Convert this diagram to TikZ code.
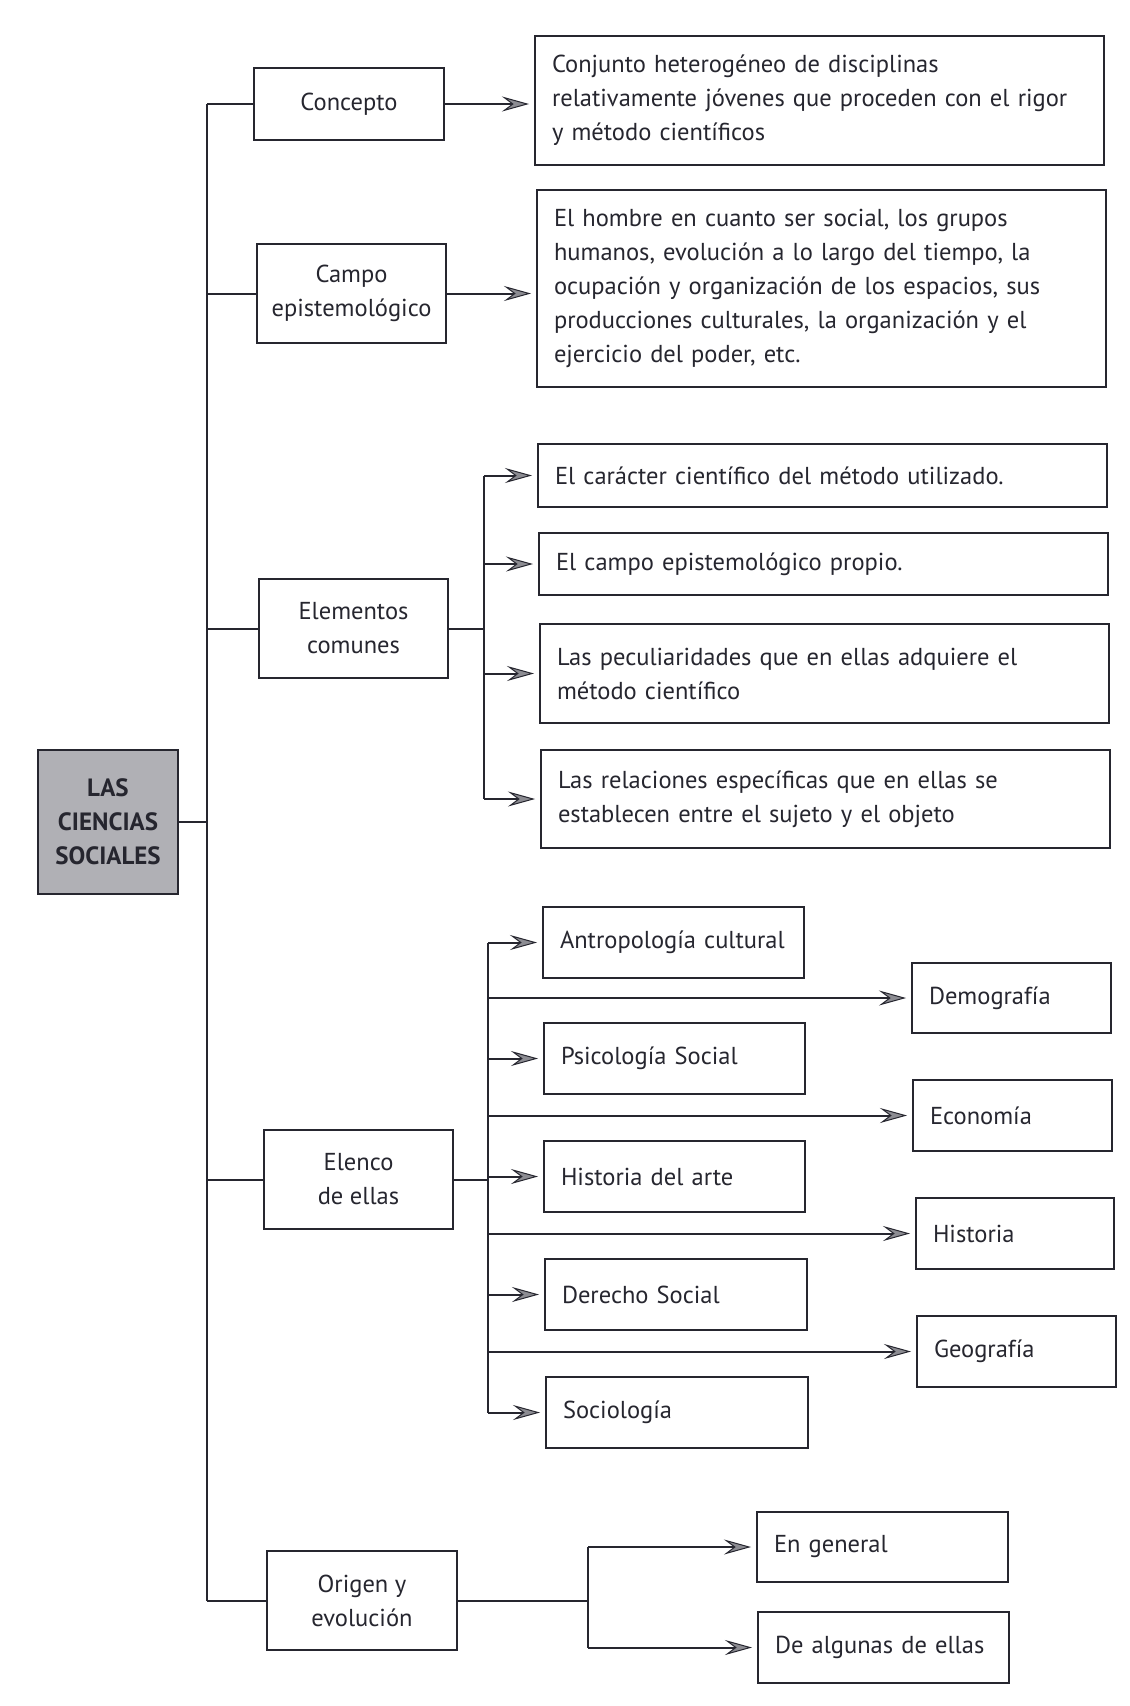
\documentclass[tikz,border=0pt]{standalone}
\usepackage{fontspec}
\setmainfont{PT Sans}
\usetikzlibrary{arrows.meta}
\hyphenpenalty=10000
\exhyphenpenalty=10000
\definecolor{ink}{HTML}{26262F}
\definecolor{tipgrey}{HTML}{8C8C92}
\definecolor{rootgrey}{HTML}{B0B0B5}
\tikzset{
  box/.style={draw=ink, line width=2pt, anchor=north west, inner ysep=0pt, font=\fontsize{24.5}{34}\selectfont, text=ink},
  cbox/.style={box, align=center},
  lbox/.style={box, align=left, inner xsep=17pt},
  line/.style={draw=ink, line width=2pt},
  arr/.style={line, shorten >=5pt, -{Stealth[length=27pt,width=15pt,inset=10pt,fill=tipgrey,line width=1pt]}},
}
\begin{document}
\begin{tikzpicture}[x=1pt,y=-1pt]
\useasboundingbox[fill=white] (0,0) rectangle (1130,1706);
% root
\node[box, fill=rootgrey, minimum width=140pt, minimum height=144pt, align=center, font=\fontsize{25}{34}\selectfont\bfseries] (root) at (37,749) {LAS\\CIENCIAS\\SOCIALES};
% first level
\node[cbox, minimum width=190pt, minimum height=72pt] (conc) at (253,67) {Concepto};
\node[cbox, minimum width=189pt, minimum height=99pt] (campo) at (256,243) {Campo\\epistemológico};
\node[cbox, minimum width=189pt, minimum height=99pt] (elem) at (258,578) {Elementos\\comunes};
\node[cbox, minimum width=189pt, minimum height=99pt] (elenco) at (263,1129) {Elenco\\de ellas};
\node[cbox, minimum width=190pt, minimum height=99pt] (orig) at (266,1550) {Origen y\\evolución};
% descriptions
\node[lbox, minimum width=569pt, minimum height=129pt, text width=535pt] (cdesc) at (534,35) {Conjunto heterogéneo de disciplinas\\relativamente jóvenes que proceden con el rigor\\y método científicos};
\node[lbox, minimum width=569pt, minimum height=197pt, text width=535pt] (campodesc) at (536,189) {El hombre en cuanto ser social, los grupos\\humanos, evolución a lo largo del tiempo, la\\ocupación y organización de los espacios, sus\\producciones culturales, la organización y el\\ejercicio del poder, etc.};
\node[lbox, minimum width=569pt, minimum height=63pt, text width=535pt] (e1) at (537,443) {El carácter científico del método utilizado.};
\node[lbox, minimum width=569pt, minimum height=62pt, text width=535pt] (e2) at (538,532) {El campo epistemológico propio.};
\node[lbox, minimum width=569pt, minimum height=99pt, text width=535pt] (e3) at (539,623) {Las peculiaridades que en ellas adquiere el\\método científico};
\node[lbox, minimum width=569pt, minimum height=98pt, text width=535pt] (e4) at (540,749) {Las relaciones específicas que en ellas se\\establecen entre el sujeto y el objeto};
% elenco
\node[lbox, minimum width=261pt, minimum height=71pt, text width=227pt] (a1) at (542,906) {Antropología cultural};
\node[lbox, minimum width=261pt, minimum height=71pt, text width=227pt] (a2) at (543,1022) {Psicología Social};
\node[lbox, minimum width=261pt, minimum height=71pt, text width=227pt] (a3) at (543,1140) {Historia del arte};
\node[lbox, minimum width=262pt, minimum height=71pt, text width=228pt] (a4) at (544,1258) {Derecho Social};
\node[lbox, minimum width=262pt, minimum height=71pt, text width=228pt] (a5) at (545,1376) {Sociología};
\node[lbox, minimum width=199pt, minimum height=70pt, text width=165pt] (b1) at (911,962) {Demografía};
\node[lbox, minimum width=199pt, minimum height=71pt, text width=165pt] (b2) at (912,1079) {Economía};
\node[lbox, minimum width=198pt, minimum height=71pt, text width=164pt] (b3) at (915,1197) {Historia};
\node[lbox, minimum width=199pt, minimum height=71pt, text width=165pt] (b4) at (916,1315) {Geografía};
% origen
\node[lbox, minimum width=251pt, minimum height=70pt, text width=217pt] (o1) at (756,1511) {En general};
\node[lbox, minimum width=251pt, minimum height=71pt, text width=217pt] (o2) at (757,1611) {De algunas de ellas};
% spine coordinates
\coordinate (spx) at (207,0);
\coordinate (ex) at (484,0);
\coordinate (lx) at (488,0);
\coordinate (ox) at (588,0);
% main spine
\draw[line] (conc.west -| spx) -- (orig.west -| spx);
\draw[line] (root.east) -- (root.east -| spx);
\foreach \n in {conc,campo,elem,elenco,orig} \draw[line] (\n.west -| spx) -- (\n.west);
% direct arrows
\draw[arr] (conc.east) -- (conc.east -| cdesc.west);
\draw[arr] (campo.east) -- (campo.east -| campodesc.west);
% elementos
\draw[line] (elem.east) -- (elem.east -| ex);
\draw[line] (e1.west -| ex) -- (e4.west -| ex);
\foreach \n in {e1,e2,e3,e4} \draw[arr] (\n.west -| ex) -- (\n.west);
% elenco
\draw[line] (elenco.east) -- (elenco.east -| lx);
\draw[line] (a1.west -| lx) -- (a5.west -| lx);
\foreach \n in {a1,a2,a3,a4,a5,b1,b2,b3,b4} \draw[arr] (\n.west -| lx) -- (\n.west);
% origen
\draw[line] (orig.east) -- (orig.east -| ox);
\draw[line] (o1.west -| ox) -- (o2.west -| ox);
\foreach \n in {o1,o2} \draw[arr] (\n.west -| ox) -- (\n.west);
\end{tikzpicture}
\end{document}
